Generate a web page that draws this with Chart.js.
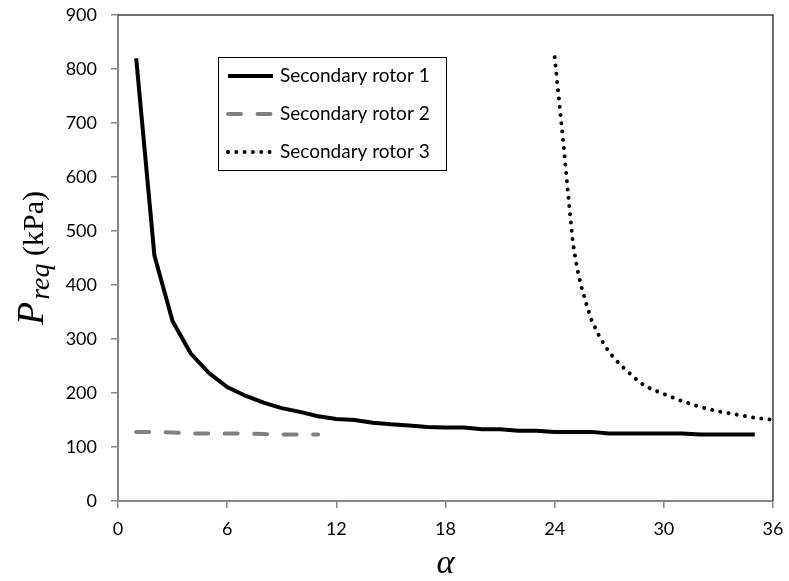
<!DOCTYPE html>
<html>
<head>
<meta charset="utf-8">
<script src="https://cdn.jsdelivr.net/npm/chart.js@4.4.1/dist/chart.umd.min.js"></script>
<style>
  html, body { margin: 0; padding: 0; background: #fff; }
  #wrap { width: 789px; height: 581px; position: relative; }
</style>
</head>
<body>
<div id="wrap"><canvas id="pressureChart"></canvas></div>
<script>
// Secondary rotor 1 (alpha = 1..35)
const rotor1Alpha = [1, 2, 3, 4, 5, 6, 7, 8, 9, 10, 11, 12, 13, 14, 15, 16, 17, 18,
  19, 20, 21, 22, 23, 24, 25, 26, 27, 28, 29, 30, 31, 32, 33, 34, 35];
const rotor1P = [820, 455, 333, 273, 237, 211, 195, 182, 172, 165, 157, 152, 150, 145,
  142, 140, 137, 136, 136, 133, 133, 130, 130, 128, 128, 128, 125, 125, 125, 125, 125,
  123, 123, 123, 123];

// Secondary rotor 2 (alpha = 1..11)
const rotor2Alpha = [1, 2, 3, 4, 5, 6, 7, 8, 9, 10, 11];
const rotor2P = [128, 128, 127, 125, 125, 125, 125, 124, 123, 123, 123];

// Secondary rotor 3 (alpha = 24..36)
const rotor3Alpha = [24, 24.25, 24.5, 24.75, 25, 25.25, 25.5, 25.75, 26, 26.5, 27, 27.5,
  28, 28.5, 29, 30, 31, 32, 33, 34, 35, 36];
const rotor3P = [822, 740, 655, 565, 478, 428, 393, 364, 337, 302, 275, 256, 240, 225,
  212, 198, 185, 174, 166, 160, 154, 150];

const seriesNames = ['Secondary rotor 1', 'Secondary rotor 2', 'Secondary rotor 3'];
const xTicks = [0, 6, 12, 18, 24, 30, 36];
const yTicks = [0, 100, 200, 300, 400, 500, 600, 700, 800, 900];

const axisGray = '#868686';
const tickFont = { family: 'Lato, "Open Sans", sans-serif', size: 18 };

function toPoints(xs, ys) {
  return xs.map((x, i) => ({ x: x, y: ys[i] }));
}

// draws frame, legend box and the two axis titles
const overlayPlugin = {
  id: 'overlay',
  afterDraw(chart) {
    const ctx = chart.ctx;
    const a = chart.chartArea;
    ctx.save();

    // top / right frame
    ctx.strokeStyle = '#404040';
    ctx.lineWidth = 1.5;
    ctx.beginPath();
    ctx.moveTo(a.left, a.top);
    ctx.lineTo(a.right, a.top);
    ctx.lineTo(a.right, a.bottom);
    ctx.stroke();

    // legend
    const lx = a.left + 100, ly = a.top + 42, lw = 228, lh = 113;
    ctx.fillStyle = '#fff';
    ctx.fillRect(lx, ly, lw, lh);
    ctx.strokeStyle = '#000';
    ctx.lineWidth = 1;
    ctx.strokeRect(lx + 0.5, ly + 0.5, lw, lh);
    ctx.font = '19px Lato, "Open Sans", sans-serif';
    ctx.textBaseline = 'middle';
    chart.data.datasets.forEach((ds, i) => {
      const cy = ly + 19 + i * 38;
      ctx.strokeStyle = ds.borderColor;
      ctx.lineWidth = ds.borderWidth;
      ctx.lineCap = ds.borderCapStyle || 'butt';
      ctx.setLineDash(ds.borderDash || []);
      ctx.beginPath();
      ctx.moveTo(lx + 10, cy);
      ctx.lineTo(lx + 55, cy);
      ctx.stroke();
      ctx.setLineDash([]);
      ctx.fillStyle = '#000';
      ctx.fillText(ds.label, lx + 62, cy);
    });

    // y axis title: P_req (kPa)
    ctx.save();
    ctx.translate(43, (a.top + a.bottom) / 2);
    ctx.rotate(-Math.PI / 2);
    ctx.textBaseline = 'alphabetic';
    ctx.fillStyle = '#000';
    const fP = 'italic 38px "Liberation Serif", "Times New Roman", serif';
    const fSub = 'italic 28px "Liberation Serif", "Times New Roman", serif';
    const fUnit = '30px "Liberation Serif", "Times New Roman", serif';
    ctx.font = fP; const wP = ctx.measureText('P').width + 2;
    ctx.font = fSub; const wS = ctx.measureText('req').width;
    ctx.font = fUnit; const wU = ctx.measureText(' (kPa)').width;
    let x0 = -(wP + wS + wU) / 2;
    ctx.font = fP; ctx.fillText('P', x0, 0);
    ctx.font = fSub; ctx.fillText('req', x0 + wP, 6);
    ctx.font = fUnit; ctx.fillText(' (kPa)', x0 + wP + wS, 0);
    ctx.restore();

    // x axis title: alpha
    ctx.font = 'italic 34px "Liberation Serif", "Times New Roman", serif';
    ctx.textAlign = 'center';
    ctx.textBaseline = 'alphabetic';
    ctx.fillStyle = '#000';
    ctx.fillText('\u03B1', (a.left + a.right) / 2, 573);
    ctx.restore();
  }
};

new Chart(document.getElementById('pressureChart').getContext('2d'), {
  type: 'line',
  data: {
    datasets: [{
      label: seriesNames[0],
      data: toPoints(rotor1Alpha, rotor1P),
      borderColor: '#000000',
      borderWidth: 4,
      tension: 0,
      pointRadius: 0
    }, {
      label: seriesNames[1],
      data: toPoints(rotor2Alpha, rotor2P),
      borderColor: '#808080',
      borderWidth: 4,
      borderDash: [13, 16.5],
      borderCapStyle: 'round',
      tension: 0,
      pointRadius: 0
    }, {
      label: seriesNames[2],
      data: toPoints(rotor3Alpha, rotor3P),
      borderColor: '#000000',
      borderWidth: 4,
      borderDash: [0.01, 8.3],
      borderCapStyle: 'round',
      tension: 0,
      pointRadius: 0
    }]
  },
  options: {
    responsive: true,
    maintainAspectRatio: false,
    animation: false,
    layout: {
      padding: { left: 0, top: 15, right: 16, bottom: 0 }
    },
    plugins: {
      legend: { display: false },
      tooltip: { enabled: false }
    },
    scales: {
      x: {
        type: 'linear',
        min: 0,
        max: 36,
        afterBuildTicks: (scale) => { scale.ticks = xTicks.map(v => ({ value: v })); },
        afterFit: (scale) => {
          scale.height = 80;
          scale.paddingLeft = 0;
          scale.paddingRight = 0;
        },
        grid: { drawOnChartArea: false, color: axisGray, lineWidth: 1.5, tickLength: 7 },
        border: { color: axisGray, width: 2 },
        ticks: { color: '#000', font: tickFont, padding: 10, maxRotation: 0 }
      },
      y: {
        min: 0,
        max: 900,
        afterBuildTicks: (scale) => { scale.ticks = yTicks.map(v => ({ value: v })); },
        afterFit: (scale) => {
          scale.width = 118;
          scale.paddingTop = 0;
          scale.paddingBottom = 0;
        },
        grid: { drawOnChartArea: false, color: axisGray, lineWidth: 1.5, tickLength: 7 },
        border: { color: axisGray, width: 2 },
        ticks: { color: '#000', font: tickFont, padding: 14 }
      }
    }
  },
  plugins: [overlayPlugin]
});
</script>
</body>
</html>
